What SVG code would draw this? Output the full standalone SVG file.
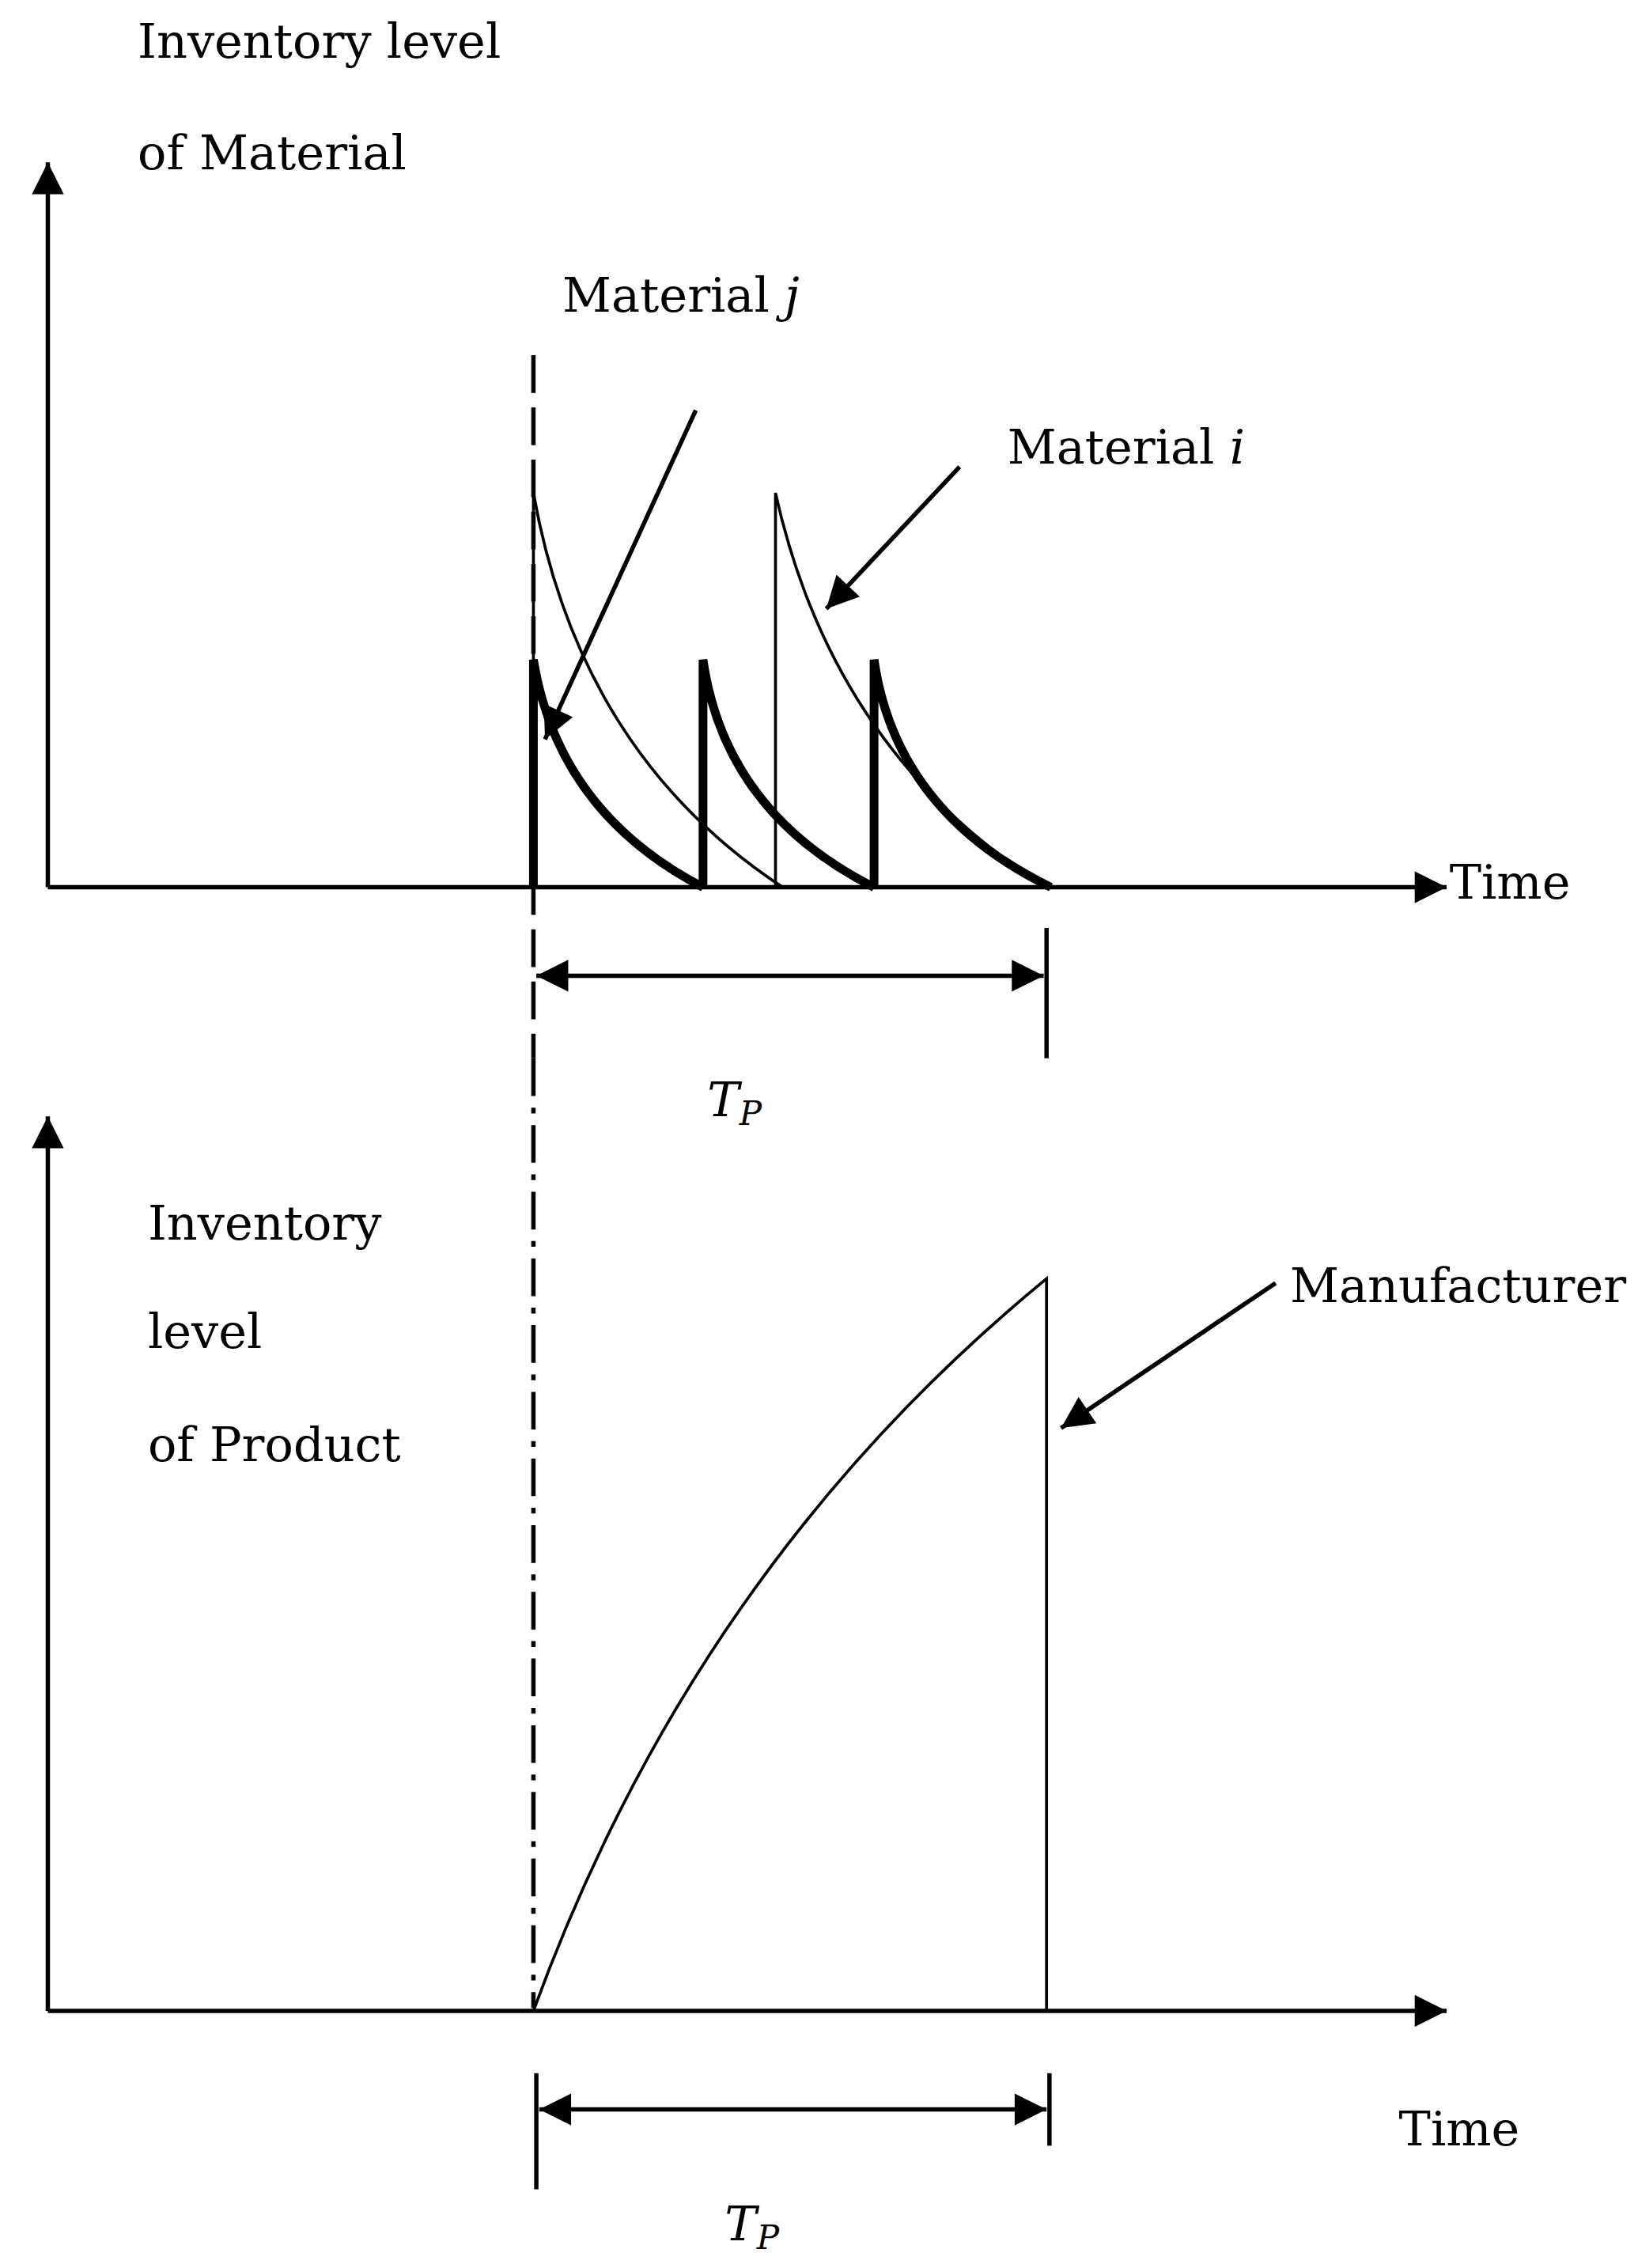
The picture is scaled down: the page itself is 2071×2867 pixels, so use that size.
<svg xmlns="http://www.w3.org/2000/svg" width="2071" height="2867" viewBox="0 0 2071 2867">
<style>
.t{font-family:"DejaVu Serif","Liberation Serif",serif;font-size:33px;fill:#000}
.ln{stroke:#000;stroke-width:3;fill:none}
.thin{stroke:#000;stroke-width:2;fill:none}
.thick{stroke:#000;stroke-width:6;fill:none}
</style>
<defs>
<marker id="ah2" viewBox="0 0 10 10" refX="10" refY="5" markerWidth="28" markerHeight="22" markerUnits="userSpaceOnUse" orient="auto-start-reverse"><path d="M0,0 L10,5 L0,10 z" fill="#000"/></marker>
</defs>
<rect width="2071" height="2867" fill="#fff"/>
<g transform="scale(1.8327)">
<g id="connectors">
<line class="ln" x1="33" y1="612" x2="33" y2="112" marker-end="url(#ah2)"/>
<line class="ln" x1="33" y1="612" x2="998" y2="612" marker-end="url(#ah2)"/>
<line class="ln" x1="33" y1="1387" x2="33" y2="770" marker-end="url(#ah2)"/>
<line class="ln" x1="33" y1="1387" x2="998" y2="1387" marker-end="url(#ah2)"/>
<line class="ln" x1="368" y1="245" x2="368" y2="730" stroke-dasharray="26,10"/>
<line class="ln" x1="368" y1="730" x2="368" y2="1385" stroke-dasharray="26,8,4,8"/>
<line class="ln" x1="370" y1="673" x2="720" y2="673" marker-start="url(#ah2)" marker-end="url(#ah2)"/>
<line class="ln" x1="722" y1="640" x2="722" y2="730"/>
<line class="ln" x1="372" y1="1455" x2="722" y2="1455" marker-start="url(#ah2)" marker-end="url(#ah2)"/>
<line class="ln" x1="370" y1="1430" x2="370" y2="1510"/>
<line class="ln" x1="724" y1="1430" x2="724" y2="1480"/>
<line class="ln" x1="480" y1="283" x2="376" y2="510" marker-end="url(#ah2)"/>
<line class="ln" x1="662" y1="322" x2="570" y2="420" marker-end="url(#ah2)"/>
<line class="ln" x1="880" y1="885" x2="732" y2="985" marker-end="url(#ah2)"/>
</g>
<g id="materialI">
<path class="thin" d="M368,612 V340 Q400,520 540,612"/>
<path class="thin" d="M535,612 V340 Q575,520 722,612"/>
</g>
<g id="materialJ">
<path class="thick" d="M368,612 V455 Q385,560 485,612"/>
<path class="thick" d="M485,612 V455 Q500,560 603,612"/>
<path class="thick" d="M603,612 V455 Q618,560 725,612"/>
</g>
<g id="product">
<path class="thin" d="M368,1387 Q480,1080 722,882 V1387"/>
</g>
<g id="labels">
<text class="t" x="95" y="40">Inventory level</text>
<text class="t" x="95" y="117">of Material</text>
<text class="t" x="388" y="215">Material <tspan font-style="italic">j</tspan></text>
<text class="t" x="695" y="320">Material <tspan font-style="italic">i</tspan></text>
<text class="t" x="1000" y="620">Time</text>
<text class="t" x="488" y="770" font-style="italic">T<tspan font-size="23" dy="6">P</tspan></text>
<text class="t" x="102" y="855">Inventory</text>
<text class="t" x="102" y="930">level</text>
<text class="t" x="102" y="1008">of Product</text>
<text class="t" x="890" y="898" font-size="28">Manufacturer</text>
<text class="t" x="965" y="1480">Time</text>
<text class="t" x="500" y="1545" font-style="italic">T<tspan font-size="23" dy="6">P</tspan></text>
</g>
</g>
</svg>
